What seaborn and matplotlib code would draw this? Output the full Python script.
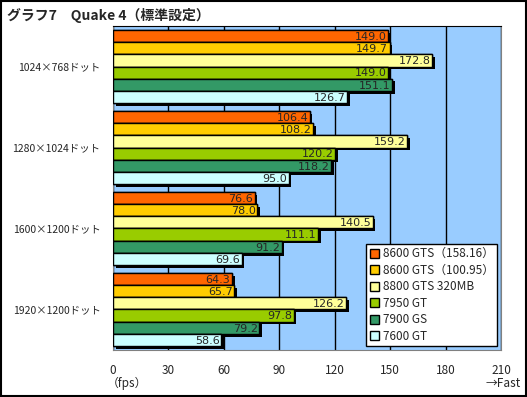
import numpy as np
import pandas as pd
import seaborn as sns
import matplotlib.pyplot as plt
import matplotlib.patheffects as pe
from matplotlib.patches import Rectangle

resolutions = ["1024×768ドット", "1280×1024ドット", "1600×1200ドット", "1920×1200ドット"]
cards = ["8600 GTS（158.16）", "8600 GTS（100.95）", "8800 GTS 320MB",
         "7950 GT", "7900 GS", "7600 GT"]
fps_8600gts_158 = [149.0, 106.4, 76.6, 64.3]
fps_8600gts_100 = [149.7, 108.2, 78.0, 65.7]
fps_8800gts = [172.8, 159.2, 140.5, 126.2]
fps_7950gt = [149.0, 120.2, 111.1, 97.8]
fps_7900gs = [151.1, 118.2, 91.2, 79.2]
fps_7600gt = [126.7, 95.0, 69.6, 58.6]
colors = ["#FF6600", "#FFCC00", "#FFFF99", "#99CC00", "#339966", "#CCFFFF"]

series = [fps_8600gts_158, fps_8600gts_100, fps_8800gts, fps_7950gt, fps_7900gs, fps_7600gt]
rows = []
for card, vals in zip(cards, series):
    for res, v in zip(resolutions, vals):
        rows.append({"res": res, "card": card, "fps": v})
df = pd.DataFrame(rows)

sns.set_style("white")
plt.rcParams['font.family'] = ['Noto Sans CJK JP', 'DejaVu Sans']

fig = plt.figure(figsize=(5.27, 3.97), dpi=100)
ax = fig.add_axes([0.2144, 0.1184, 0.7363, 0.8161])
ax.set_facecolor("#99CCFF")

sns.barplot(data=df, y="res", x="fps", hue="card", hue_order=cards,
            order=resolutions, palette=colors, orient="h", width=0.9,
            edgecolor="black", linewidth=1, saturation=1, ax=ax, zorder=3)

shadow = [pe.withSimplePatchShadow(offset=(2, -2), shadow_rgbFace="black", alpha=1), pe.Normal()]
for bar in ax.patches:
    if bar.get_width() <= 0:
        continue
    bar.set_path_effects(shadow)
    ax.text(bar.get_width() - 0.8, bar.get_y() + bar.get_height() / 2 + 0.01,
            f"{bar.get_width():.1f}", ha="right", va="center", fontsize=8,
            family="DejaVu Sans", zorder=5)

ax.set_xlim(0, 210)
ax.set_xticks(np.arange(0, 211, 30))
ax.xaxis.grid(True, color="black", linewidth=1, zorder=1)
ax.set_axisbelow(True)
ax.tick_params(axis="x", length=0, labelsize=8.5, pad=10)
ax.tick_params(axis="y", length=0, labelsize=7.5, pad=9)
ax.set_xlabel("")
ax.set_ylabel("")
for side in ["left", "bottom", "right"]:
    ax.spines[side].set_color("#808080")
ax.spines["top"].set_color("black")

leg = ax.legend(loc="lower right", fontsize=8.5, frameon=True, fancybox=False,
                edgecolor="black", framealpha=1, borderpad=0.3, labelspacing=0.3,
                handlelength=0.8, handleheight=0.8, handletextpad=0.3,
                borderaxespad=0.3)
leg.get_frame().set_linewidth(1)
for h in leg.legend_handles:
    h.set_path_effects([])
    h.set_edgecolor("black")

fig.text(0.013, 0.962, "グラフ7　Quake 4（標準設定）", fontsize=10, fontweight="bold",
         va="center", ha="left")
fig.text(0.24, 0.035, "（fps）", fontsize=8.5, ha="center", va="center")
fig.text(0.955, 0.035, "→Fast", fontsize=8.5, ha="center", va="center")
fig.patches.append(Rectangle((0.001, 0.002), 0.997, 0.996, transform=fig.transFigure,
                             fill=False, edgecolor="black", linewidth=1.5))

fig.savefig("out.png", dpi=100)
